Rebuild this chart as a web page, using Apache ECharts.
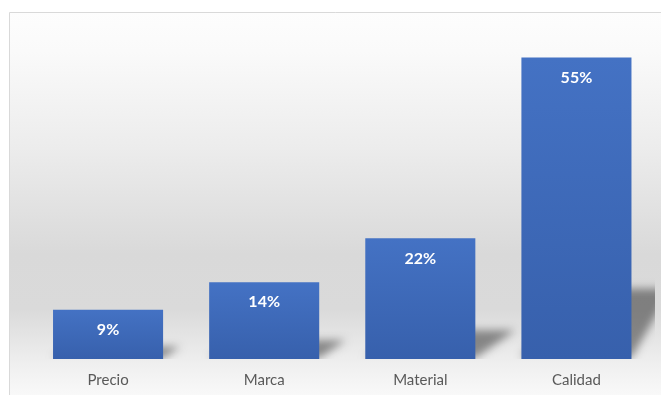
<!DOCTYPE html>
<html>
<head>
<meta charset="utf-8">
<script src="https://cdn.jsdelivr.net/npm/echarts@6/dist/echarts.min.js"></script>
<style>
  html, body { margin: 0; padding: 0; background: #ffffff; }
  #chart { width: 661px; height: 395px; }
</style>
</head>
<body>
<div id="chart"></div>
<script>
// Factors considered when buying (share of answers, %)
const categories = ['Precio', 'Marca', 'Material', 'Calidad'];
const values = [9, 14, 22, 55];

const chart = echarts.init(document.getElementById('chart'), null, { renderer: 'canvas' });

const FONT = 'Lato, "Open Sans", sans-serif';
const SHIFT = 3000; // shape is drawn off-canvas; only its blurred shadow lands here

// Slanted, soft shadow cast to the right of each bar
function renderShadow(params, api) {
  const idx = api.value(0);
  const v = api.value(1);
  const base = api.coord([idx, 0]);
  const top = api.coord([idx, v]);
  const bw = api.size([1, 0])[0] * 0.705;
  const xl = base[0] - bw / 2;
  const xr = base[0] + bw / 2;
  const h = base[1] - top[1];
  const sh = h * 0.23;
  const s = Math.min(sh * 1.5, 40);
  const yb = base[1] - 1;
  return {
    type: 'polygon',
    shape: {
      points: [[xl - SHIFT, yb], [xr - SHIFT, yb], [xr + s - SHIFT, yb - sh], [xl + s - SHIFT, yb - sh]]
    },
    style: {
      fill: 'rgba(0,0,0,1)',
      shadowColor: 'rgba(0,0,0,0.42)',
      shadowBlur: 9,
      shadowOffsetX: SHIFT,
      shadowOffsetY: 0
    }
  };
}

chart.setOption({
  animation: false,
  backgroundColor: '#ffffff',
  graphic: [{
    type: 'rect',
    z: -10,
    silent: true,
    shape: { x: 9.5, y: 12.5, width: 660, height: 390 },
    style: {
      stroke: '#d9d9d9',
      lineWidth: 1,
      fill: {
        type: 'linear', x: 0, y: 0, x2: 0, y2: 1,
        colorStops: [
          { offset: 0, color: '#fdfdfd' },
          { offset: 0.1, color: '#fafafa' },
          { offset: 0.35, color: '#ececec' },
          { offset: 0.62, color: '#d9d9d9' },
          { offset: 0.76, color: '#dadada' },
          { offset: 0.9, color: '#efefef' },
          { offset: 1, color: '#fbfbfb' }
        ]
      }
    }
  }],
  grid: { left: 30, right: 6.5, top: 30, bottom: 36, containLabel: false },
  xAxis: {
    type: 'category',
    data: categories,
    axisLine: { show: false },
    axisTick: { show: false },
    axisLabel: {
      color: '#595959',
      fontFamily: FONT,
      fontSize: 15,
      margin: 14
    }
  },
  yAxis: {
    type: 'value',
    min: 0,
    max: 60,
    show: false,
    splitLine: { show: false }
  },
  series: [
    {
      type: 'custom',
      z: 1,
      silent: true,
      clip: true,
      renderItem: renderShadow,
      encode: { x: 0, y: 1 },
      data: values.map((v, i) => [i, v])
    },
    {
      type: 'bar',
      z: 2,
      data: values,
      barGap: '-100%',
      barCategoryGap: '29.5%',
      itemStyle: {
        color: {
          type: 'linear', x: 0, y: 0, x2: 0, y2: 1,
          colorStops: [
            { offset: 0, color: '#4472c4' },
            { offset: 1, color: '#3760ac' }
          ]
        }
      },
      label: {
        show: true,
        position: 'insideTop',
        distance: 12,
        color: '#ffffff',
        fontFamily: FONT,
        fontWeight: 'bold',
        fontSize: 16,
        formatter: p => p.value + '%'
      }
    }
  ]
});
</script>
</body>
</html>
